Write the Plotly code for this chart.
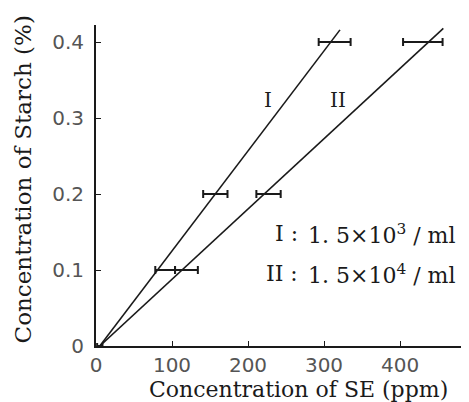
import plotly.graph_objects as go

# Data
starch = [0.1, 0.2, 0.4]                 # Concentration of Starch (%)
se_I = [91, 157, 314]                    # SE (ppm) series I
err_I = [13, 16, 21]
se_II = [119, 227, 430]                  # SE (ppm) series II
err_II = [15, 16, 26]
origin_x = [5]
origin_y = [0]
origin_err = [3.5]
fit_I_x = [5, 321]
fit_I_y = [0, 0.416]
fit_II_x = [5, 457]
fit_II_y = [0, 0.418]
x_ticks = [0, 100, 200, 300, 400]
y_ticks = [0, 0.1, 0.2, 0.3, 0.4]
y_ticktext = ["0", "0.1", "0.2", "0.3", "0.4"]
legend_numerals = ["I", "II"]
legend_texts = ["1. 5×10<sup>3</sup> / ml", "1. 5×10<sup>4</sup> / ml"]
legend_y = [0.148, 0.095]

INK = "#1a1a1a"
SERIF = "DejaVu Serif, Liberation Serif, serif"

fig = go.Figure()
fig.add_trace(go.Scatter(x=fit_I_x, y=fit_I_y, mode="lines",
                         line=dict(color=INK, width=1.6), hoverinfo="skip"))
fig.add_trace(go.Scatter(x=fit_II_x, y=fit_II_y, mode="lines",
                         line=dict(color=INK, width=1.6), hoverinfo="skip"))

def bars(xs, ys, errs, cap=4):
    fig.add_trace(go.Scatter(
        x=xs, y=ys, mode="markers",
        marker=dict(size=1, color="rgba(0,0,0,0)"),
        error_x=dict(type="data", array=errs, visible=True,
                     color=INK, thickness=2, width=cap)))

bars(se_I, starch, err_I)
bars(se_II, starch, err_II)
bars(origin_x, origin_y, origin_err, cap=3)

# page body has an 8px margin, so the figure is sized/offset to compensate
fig.update_layout(
    width=461, height=394,
    margin=dict(l=88, r=4, t=17, b=56),
    paper_bgcolor="white", plot_bgcolor="white",
    showlegend=False,
    font=dict(family="DejaVu Sans", color="#444"),
)
TICKFONT = dict(size=20, color="#555", family="DejaVu Sans")
fig.update_xaxes(range=[0, 485.5], tickvals=x_ticks, showgrid=False,
                 zeroline=False, showline=True, linecolor=INK, linewidth=2,
                 ticks="inside", ticklen=5, tickcolor=INK, tickwidth=1,
                 ticklabelstandoff=0, tickfont=TICKFONT)
fig.update_yaxes(range=[0, 0.4224], tickvals=y_ticks, ticktext=y_ticktext,
                 showgrid=False, zeroline=False, showline=True,
                 linecolor=INK, linewidth=2, ticks="inside", ticklen=5,
                 tickcolor=INK, tickwidth=1, ticklabelstandoff=6,
                 tickfont=TICKFONT)

ann = []
ann.append(dict(text="Concentration of SE (ppm)", xref="paper", yref="paper",
                x=0.55, y=-0.137, xanchor="center", yanchor="middle",
                showarrow=False, font=dict(family=SERIF, size=22, color=INK)))
ann.append(dict(text="Concentration of Starch (%)", xref="paper", yref="paper",
                x=-0.197, y=0.52, xanchor="center", yanchor="middle",
                textangle=-90, showarrow=False,
                font=dict(family=SERIF, size=23, color=INK)))
ann.append(dict(text="I", x=226, y=0.324, showarrow=False,
                font=dict(family=SERIF, size=20, color=INK)))
ann.append(dict(text="II", x=318, y=0.324, showarrow=False,
                font=dict(family=SERIF, size=20, color=INK)))
for num, txt, yy in zip(legend_numerals, legend_texts, legend_y):
    ann.append(dict(text=num + " :", x=268, y=yy, xanchor="right",
                    showarrow=False,
                    font=dict(family=SERIF, size=22, color=INK)))
    ann.append(dict(text=txt, x=276, y=yy, xanchor="left", showarrow=False,
                    font=dict(family=SERIF, size=22, color=INK)))
fig.update_layout(annotations=ann)

fig.write_html("out.html")
